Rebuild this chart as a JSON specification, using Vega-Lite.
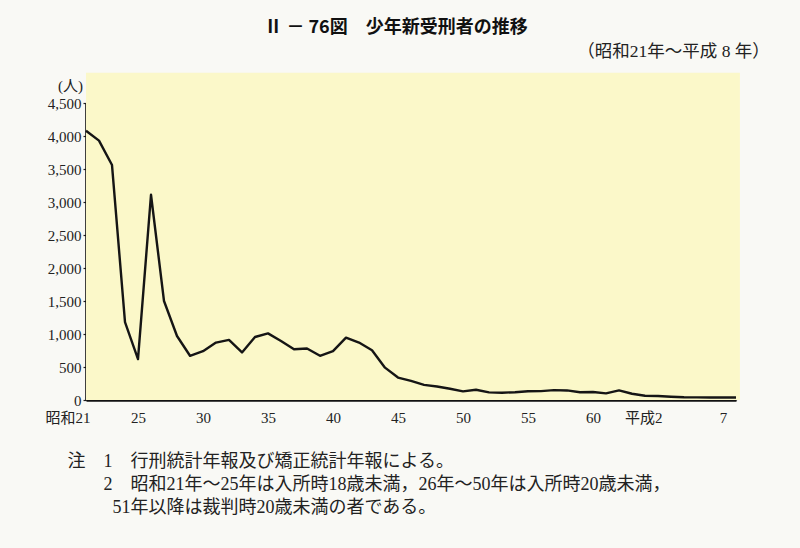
{
  "$schema": "https://vega.github.io/schema/vega-lite/v6.json",
  "width": 650,
  "height": 297,
  "autosize": "none",
  "padding": {"left": 86, "top": 103, "right": 64, "bottom": 148},
  "background": "#f9f9f5",
  "title": {
    "text": "Ⅱ － 76図　少年新受刑者の推移",
    "font": "Noto Sans CJK JP",
    "fontSize": 18,
    "fontWeight": "bold",
    "color": "#111111",
    "anchor": "middle",
    "frame": "group",
    "dx": -15,
    "offset": 6
  },
  "config": {
    "view": {"stroke": null},
    "axis": {"labelOverlap": false, "labelFlush": false}
  },
  "data": {
    "values": [
      {"year": 1946, "count": 4080}, {"year": 1947, "count": 3930}, {"year": 1948, "count": 3560},
      {"year": 1949, "count": 1180}, {"year": 1950, "count": 620}, {"year": 1951, "count": 3110},
      {"year": 1952, "count": 1500}, {"year": 1953, "count": 970}, {"year": 1954, "count": 670},
      {"year": 1955, "count": 740}, {"year": 1956, "count": 870}, {"year": 1957, "count": 910},
      {"year": 1958, "count": 720}, {"year": 1959, "count": 955}, {"year": 1960, "count": 1010},
      {"year": 1961, "count": 895}, {"year": 1962, "count": 770}, {"year": 1963, "count": 780},
      {"year": 1964, "count": 670}, {"year": 1965, "count": 740}, {"year": 1966, "count": 945},
      {"year": 1967, "count": 870}, {"year": 1968, "count": 755}, {"year": 1969, "count": 490},
      {"year": 1970, "count": 340}, {"year": 1971, "count": 290}, {"year": 1972, "count": 230},
      {"year": 1973, "count": 205}, {"year": 1974, "count": 170}, {"year": 1975, "count": 130},
      {"year": 1976, "count": 155}, {"year": 1977, "count": 115}, {"year": 1978, "count": 110},
      {"year": 1979, "count": 118}, {"year": 1980, "count": 133}, {"year": 1981, "count": 135},
      {"year": 1982, "count": 150}, {"year": 1983, "count": 145}, {"year": 1984, "count": 118},
      {"year": 1985, "count": 122}, {"year": 1986, "count": 100}, {"year": 1987, "count": 145},
      {"year": 1988, "count": 95}, {"year": 1989, "count": 65}, {"year": 1990, "count": 60},
      {"year": 1991, "count": 50}, {"year": 1992, "count": 42}, {"year": 1993, "count": 40},
      {"year": 1994, "count": 38}, {"year": 1995, "count": 38}, {"year": 1996, "count": 38}
    ]
  },
  "layer": [
    {
      "data": {"values": [{"panel": "plot"}]},
      "mark": {"type": "rect", "fill": "#fbf8c9", "clip": false},
      "encoding": {
        "x": {"datum": 1946, "type": "quantitative"},
        "x2": {"datum": 1996.3},
        "y": {"datum": 0, "type": "quantitative"},
        "y2": {"datum": 4960}
      }
    },
    {
      "mark": {"type": "line", "stroke": "#151515", "strokeWidth": 2.4, "strokeJoin": "round"},
      "encoding": {
        "x": {
          "field": "year",
          "type": "quantitative",
          "scale": {"domain": [1946, 1996], "nice": false, "zero": false},
          "axis": {
            "values": [1946,1947,1948,1949,1950,1951,1952,1953,1954,1955,1956,1957,1958,1959,1960,1961,1962,1963,1964,1965,1966,1967,1968,1969,1970,1971,1972,1973,1974,1975,1976,1977,1978,1979,1980,1981,1982,1983,1984,1985,1986,1987,1988,1989,1990,1991,1992,1993,1994,1995,1996],
            "tickCount": 100,
            "labelExpr": "datum.value == 1946 ? '昭和21' : datum.value == 1990 ? '平成2' : datum.value == 1995 ? '7' : (datum.value % 5 == 0 ? '' + (datum.value - 1925) : '')",
            "labelAlign": {"condition": {"test": "datum.value == 1946 || datum.value == 1990", "value": "right"}, "value": "center"},
            "labelOffset": {"condition": {"test": "datum.value == 1946 || datum.value == 1990", "value": 4}, "value": 0},
            "labelFont": "Liberation Serif, Noto Sans CJK JP",
            "labelFontSize": 15,
            "labelColor": "#222222",
            "labelPadding": 14,
            "labelBaseline": "top",
            "labelOverlap": false,
            "labelFlush": false,
            "grid": false,
            "domainColor": "#111111",
            "domainWidth": 2.6,
            "tickColor": "#222222",
            "tickWidth": 1.2,
            "tickSize": -4,
            "title": [
              "注\u2002\u20021\u2002\u2002行刑統計年報及び矯正統計年報による。",
              "\u200B\u2002\u2002\u2002\u20022\u2002\u2002昭和21年～25年は入所時18歳未満，26年～50年は入所時20歳未満，",
              "\u200B\u2002\u2002\u2002\u2002\u200251年以降は裁判時20歳未満の者である。"
            ],
            "titleFont": "Liberation Serif, Noto Sans CJK JP",
            "titleFontSize": 18,
            "titleFontWeight": "normal",
            "titleColor": "#222222",
            "titleAlign": "left",
            "titleBaseline": "top",
            "titleLineHeight": 23,
            "titleX": -19,
            "titleY": 52
          }
        },
        "y": {
          "field": "count",
          "type": "quantitative",
          "scale": {"domain": [0, 4500], "nice": false},
          "axis": {
            "values": [0, 500, 1000, 1500, 2000, 2500, 3000, 3500, 4000, 4500],
            "tickCount": 20,
            "format": ",.0f",
            "labelFont": "Liberation Serif",
            "labelFontSize": 15,
            "labelColor": "#222222",
            "labelPadding": 2,
            "labelOverlap": false,
            "grid": false,
            "domainColor": "#111111",
            "domainWidth": 2.6,
            "tickColor": "#222222",
            "tickWidth": 1.2,
            "tickSize": 3,
            "title": "(人)",
            "titleFont": "Liberation Serif, Noto Sans CJK JP",
            "titleFontSize": 15,
            "titleFontWeight": "normal",
            "titleColor": "#222222",
            "titleAngle": 0,
            "titleAlign": "center",
            "titleBaseline": "middle",
            "titleX": -16,
            "titleY": -18
          }
        }
      }
    },
    {
      "data": {"values": [{"label": "（昭和21年～平成 8 年）"}]},
      "mark": {"type": "text", "align": "right", "baseline": "middle", "font": "Liberation Serif, Noto Sans CJK JP", "fontSize": 17.5, "fontWeight": "normal", "fill": "#222222"},
      "encoding": {
        "x": {"datum": 1998.6, "type": "quantitative"},
        "y": {"datum": 5270, "type": "quantitative"},
        "text": {"field": "label"}
      }
    }
  ]
}
